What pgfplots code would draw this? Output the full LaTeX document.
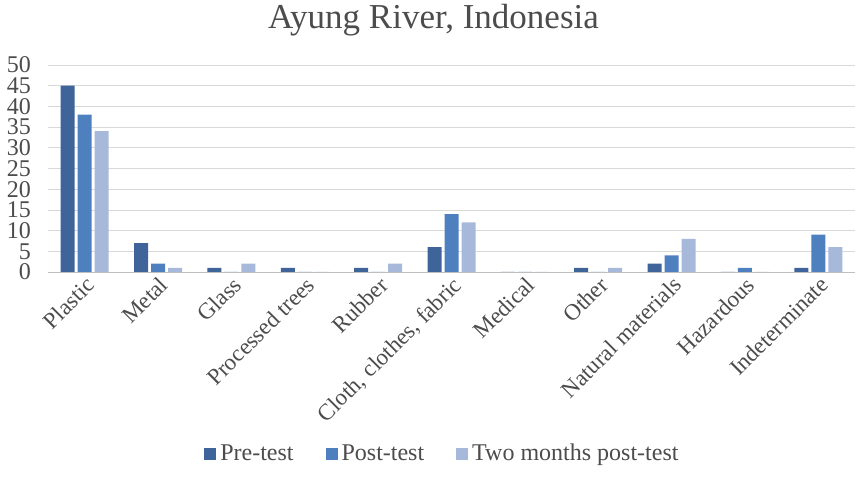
\documentclass[border=0pt]{standalone}
\usepackage{pgfplots}
\pgfplotsset{compat=1.18}
\usepackage{fontspec}
\setmainfont{Liberation Serif}
\definecolor{preC}{HTML}{3E6499}
\definecolor{postC}{HTML}{4E80C0}
\definecolor{twoC}{HTML}{A7B9DA}
\begin{document}
\begin{tikzpicture}
\path[use as bounding box] (-24pt,-112pt) rectangle (408.5pt,136pt);
\begin{axis}[
    at={(0,0)}, anchor=south west,
    scale only axis,
    width=403.5pt, height=103.5pt,
    ybar=1.5pt, bar width=7pt,
    xmin=-0.5, xmax=10.5,
    ymin=0, ymax=50,
    ytick={0,5,...,50},
    xtick={0,...,10},
    xticklabels={Plastic,Metal,Glass,Processed trees,Rubber,{Cloth, clothes, fabric},Medical,Other,Natural materials,Hazardous,Indeterminate},
    xticklabel style={rotate=45, anchor=north east, font=\fontsize{11.5}{13}\selectfont, text=black!70, inner sep=1pt},
    yticklabel style={font=\fontsize{12}{14}\selectfont, text=black!70, xshift=-5pt},
    /pgf/number format/assume math mode=true,
    major tick length=0pt,
    axis lines*=left,
    x axis line style={black!25},
    y axis line style={draw=none},
    ymajorgrids, grid style={black!15},
    title={Ayung River, Indonesia},
    title style={font=\fontsize{17.5}{20}\selectfont, text=black!70, yshift=5pt, xshift=-9pt},
    legend style={at={(0.49,-0.88)}, anchor=center, draw=none, legend columns=3,
        font=\fontsize{12}{14}\selectfont, text=black!70,
        /tikz/every even column/.append style={column sep=14pt}},
    legend image code/.code={\fill[#1] (0cm,-0.1cm) rectangle (0.21cm,0.11cm);},
]
\addplot+[fill=preC, draw=none] coordinates {(0,45)(1,7)(2,1)(3,1)(4,1)(5,6)(6,0)(7,1)(8,2)(9,0)(10,1)};
\addlegendentry{Pre-test}
\addplot+[fill=postC, draw=none] coordinates {(0,38)(1,2)(2,0)(3,0)(4,0)(5,14)(6,0)(7,0)(8,4)(9,1)(10,9)};
\addlegendentry{Post-test}
\addplot+[fill=twoC, draw=none] coordinates {(0,34)(1,1)(2,2)(3,0)(4,2)(5,12)(6,0)(7,1)(8,8)(9,0)(10,6)};
\addlegendentry{Two months post-test}
\end{axis}
\end{tikzpicture}
\end{document}
